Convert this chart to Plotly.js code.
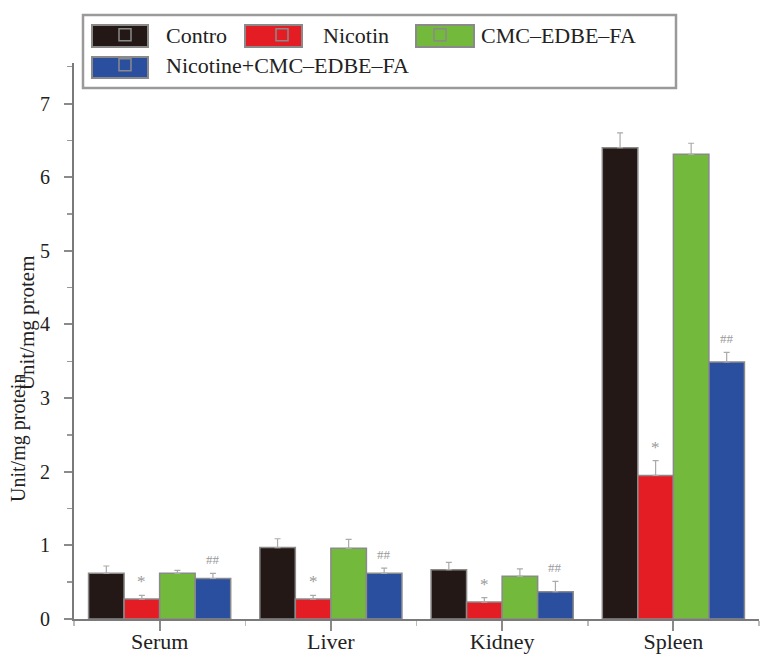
<!DOCTYPE html>
<html>
<head>
<meta charset="utf-8">
<script src="https://cdn.plot.ly/plotly-3.0.1.min.js"></script>
<style>html,body{margin:0;padding:0;background:#fff;}#chart{width:771px;height:665px;}</style>
</head>
<body>
<div id="chart"></div>
<script>
const categories = ["Serum", "Liver", "Kidney", "Spleen"];
const seriesNames = ["Contro", "Nicotin", "CMC\u2013EDBE\u2013FA", "Nicotine+CMC\u2013EDBE\u2013FA"];
const controValues = [0.62, 0.97, 0.67, 6.40];
const nicotinValues = [0.27, 0.27, 0.23, 1.95];
const cmcValues = [0.62, 0.96, 0.58, 6.31];
const comboValues = [0.55, 0.62, 0.37, 3.49];
const controErr = [0.10, 0.12, 0.10, 0.20];
const nicotinErr = [0.05, 0.05, 0.06, 0.20];
const cmcErr = [0.04, 0.12, 0.10, 0.15];
const comboErr = [0.07, 0.07, 0.14, 0.13];
const nicotinMarks = ["*", "*", "*", "*"];
const comboMarks = ["##", "##", "##", "##"];
const yTickVals = [0, 1, 2, 3, 4, 5, 6, 7];

const FONT = "Liberation Serif, Times New Roman, serif";
const colors = ["#231815", "#e41d25", "#72b93c", "#2a4f9f"];
const xIdx = categories.map((c, i) => i);
const values = [controValues, nicotinValues, cmcValues, comboValues];
const errs = [controErr, nicotinErr, cmcErr, comboErr];
const legendIds = ["legend", "legend2", "legend3", "legend4"];

const traces = values.map((v, k) => ({
  type: "bar",
  name: seriesNames[k],
  legend: legendIds[k],
  x: xIdx,
  y: v,
  marker: {color: colors[k], line: {color: "#8a8a8a", width: 1.5}},
  error_y: {type: "data", symmetric: false, array: errs[k], arrayminus: v.map(() => 0),
            color: "#aaaaaa", thickness: 1.2, width: 3}
}));

// pixel -> paper helpers for layout placement (plot area: x 74..759, y 63..619)
const px = p => (p - 74) / 685;
const py = p => (619 - p) / 556;

const bargap = 0.17;
const barW = (1 - bargap) / 4;
const offs = [0, 1, 2, 3].map(k => -(1 - bargap) / 2 + barW * (k + 0.5));
const annotations = [];
categories.forEach((c, i) => {
  annotations.push({x: i + offs[1], y: nicotinValues[i] + nicotinErr[i], xref: "x", yref: "y",
    text: nicotinMarks[i], showarrow: false, yanchor: "bottom", yshift: 2,
    font: {family: FONT, size: 17, color: "#9a9a9a"}});
  annotations.push({x: i + offs[3], y: comboValues[i] + comboErr[i], xref: "x", yref: "y",
    text: comboMarks[i], showarrow: false, yanchor: "bottom", yshift: 4,
    font: {family: FONT, size: 13, color: "#9a9a9a"}});
});
annotations.push({x: -0.0686, y: 0.532, xref: "paper", yref: "paper", xanchor: "center", yanchor: "middle",
  text: "Unit/mg protem", textangle: -90, showarrow: false, font: {family: FONT, size: 21, color: "#222"}});
annotations.push({x: -0.08, y: 0.326, xref: "paper", yref: "paper", xanchor: "center", yanchor: "middle",
  text: "Unit/mg protein", textangle: -90, showarrow: false, font: {family: FONT, size: 20, color: "#222"}});

// legend layout: text starts and row tops (px)
const legTextX = [168, 325, 483, 168];
const legTop = [14, 14, 14, 44];
const swatchX = [[92, 148], [245, 302], [416, 474], [92, 148]];
const swatchY = [[25, 47], [25, 47], [25, 47], [57, 78]];

const shapes = [{type: "rect", xref: "paper", yref: "paper", x0: px(83), x1: px(676), y0: py(88), y1: py(15),
  line: {color: "#9a9a9a", width: 2.5}, fillcolor: "#fff", layer: "above"}];
swatchX.forEach((sx, k) => shapes.push({type: "rect", xref: "paper", yref: "paper",
  x0: px(sx[0]), x1: px(sx[1]), y0: py(swatchY[k][1]), y1: py(swatchY[k][0]),
  line: {color: "#8a8a8a", width: 2}, fillcolor: colors[k], layer: "above"}));

const layout = {
  width: 771, height: 665,
  margin: {l: 74, r: 12, t: 63, b: 46},
  paper_bgcolor: "#fff", plot_bgcolor: "#fff",
  barmode: "group", bargap: bargap, bargroupgap: 0,
  font: {family: FONT, color: "#222"},
  showlegend: true,
  xaxis: {range: [-0.5, 3.5], tickmode: "array", tickvals: xIdx, ticktext: categories,
    showline: true, linecolor: "#7a7a7a", linewidth: 2, showgrid: false, zeroline: false,
    ticks: "outside", ticklen: 10, tickwidth: 2, tickcolor: "#8a8a8a", ticklabelstandoff: -8,
    minor: {tickvals: [-0.5, 0.5, 1.5, 2.5, 3.5], ticks: "outside", ticklen: 5, tickcolor: "#bbb", tickwidth: 1.5},
    tickfont: {family: FONT, size: 22, color: "#222"}},
  yaxis: {range: [0, 7.55], tickmode: "array", tickvals: yTickVals,
    showline: true, linecolor: "#7a7a7a", linewidth: 2, showgrid: false, zeroline: false,
    ticks: "outside", ticklen: 8, tickwidth: 2, tickcolor: "#8a8a8a", ticklabelstandoff: 10,
    minor: {dtick: 0.5, ticks: "outside", ticklen: 5, tickcolor: "#999", tickwidth: 1.5},
    tickfont: {family: FONT, size: 20, color: "#222"}},
  shapes: shapes,
  annotations: annotations
};
legendIds.forEach((id, k) => {
  layout[id] = {orientation: "h", x: px(legTextX[k] - 84), y: py(legTop[k]), xanchor: "left", yanchor: "top",
    bgcolor: "rgba(0,0,0,0)", borderwidth: 0, itemwidth: 72,
    font: {family: FONT, size: 22, color: "#222"}};
});

Plotly.newPlot("chart", traces, layout, {displayModeBar: false, staticPlot: true});
</script>
</body>
</html>
